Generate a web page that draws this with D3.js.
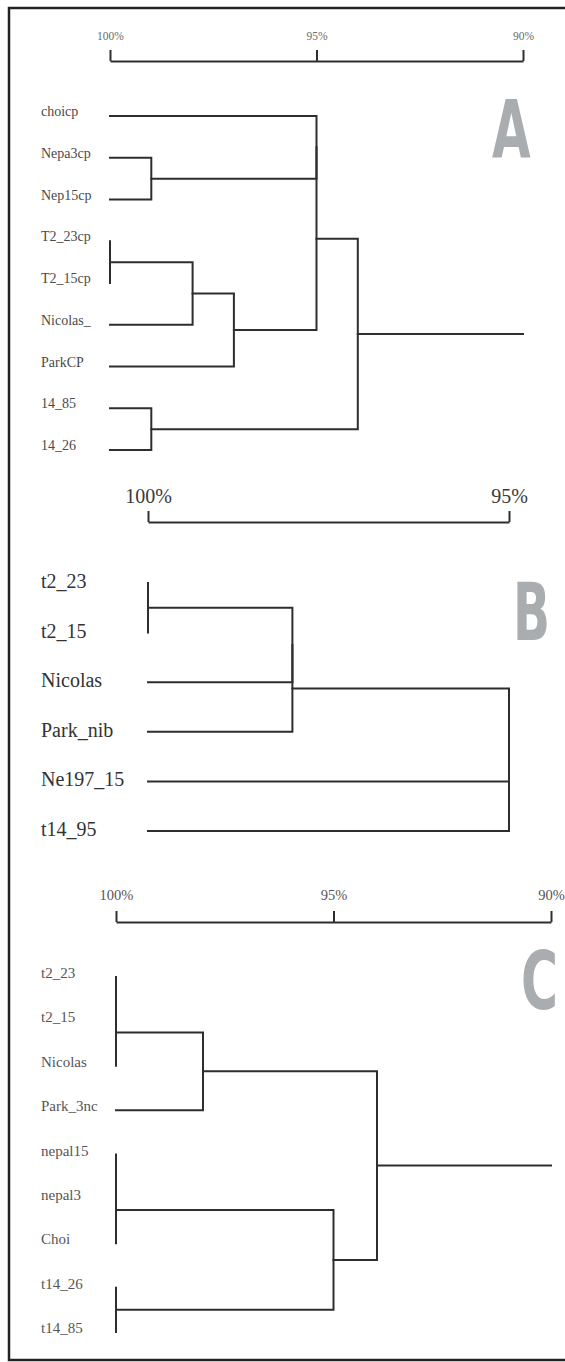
<!DOCTYPE html>
<html>
<head>
<meta charset="utf-8">
<script src="https://cdn.jsdelivr.net/npm/d3@7"></script>
<style>
  body { margin: 0; background: #fff; }
</style>
</head>
<body>
<div id="chart"></div>
<script>
// panel A
const leavesA = ["choicp", "Nepa3cp", "Nep15cp", "T2_23cp", "T2_15cp", "Nicolas_", "ParkCP", "14_85", "14_26"];
const mergesA = [ // [child, child, similarity %] -> node n0, n1, ...
    ["Nepa3cp", "Nep15cp", 99],
    ["T2_23cp", "T2_15cp", 100],
    ["n1", "Nicolas_", 98],
    ["n2", "ParkCP", 97],
    ["choicp", "n0", 95],
    ["n4", "n3", 95],
    ["14_85", "14_26", 99],
    ["n5", "n6", 94]
];
const ticksA = [100, 95, 90];

// panel B
const leavesB = ["t2_23", "t2_15", "Nicolas", "Park_nib", "Ne197_15", "t14_95"];
const mergesB = [
    ["t2_23", "t2_15", 100],
    ["n0", "Nicolas", 98],
    ["n1", "Park_nib", 98],
    ["n2", "Ne197_15", 95],
    ["n3", "t14_95", 95]
];
const ticksB = [100, 95];

// panel C
const leavesC = ["t2_23", "t2_15", "Nicolas", "Park_3nc", "nepal15", "nepal3", "Choi", "t14_26", "t14_85"];
const mergesC = [
    ["t2_23", "t2_15", 100],
    ["n0", "Nicolas", 100],
    ["n1", "Park_3nc", 98],
    ["nepal15", "nepal3", 100],
    ["n3", "Choi", 100],
    ["t14_26", "t14_85", 100],
    ["n4", "n5", 95],
    ["n2", "n6", 94]
];
const ticksC = [100, 95, 90];

const panelLetters = ["A", "B", "C"];

const W = 565, H = 1362;
const lineColor = "#2e2e2e";
const serif = "'Liberation Serif', 'Times New Roman', serif";

const panels = [
    { leaves: leavesA, merges: mergesA, ticks: ticksA, domain: [100, 90], xr: [110, 523],
      axisY: 61, pad: 10, axisFont: 11.5, axisColor: "#6a6a6a",
      yr: [116, 450], labelFont: 14, labelDy: 0, labelColor: "#4a4a4a",
      letter: { x: 492, y: 158, w: 39 } },
    { leaves: leavesB, merges: mergesB, ticks: ticksB, domain: [100, 95], xr: [148, 509],
      axisY: 522, pad: 8, axisFont: 20, axisColor: "#3a3a3a",
      yr: [583, 831], labelFont: 20, labelDy: 5, labelColor: "#333",
      letter: { x: 513, y: 640, w: 37 } },
    { leaves: leavesC, merges: mergesC, ticks: ticksC, domain: [100, 90], xr: [116, 551],
      axisY: 922, pad: 11, axisFont: 14.5, axisColor: "#555",
      yr: [977, 1332], labelFont: 15, labelDy: 1, labelColor: "#555",
      letter: { x: 521, y: 1009, w: 37 } }
];

const svg = d3.select("#chart")
    .append("svg")
    .attr("width", W)
    .attr("height", H);

svg.append("rect")
    .attr("width", W).attr("height", H)
    .attr("fill", "#fff");

// outer frame (right side runs off the page)
svg.append("rect")
    .attr("x", 9).attr("y", 8)
    .attr("width", 640).attr("height", 1352)
    .attr("fill", "none")
    .attr("stroke", "#222")
    .attr("stroke-width", 2.5);

panels.forEach((p, i) => {
    const g = svg.append("g");
    const x = d3.scaleLinear().domain(p.domain).range(p.xr);
    const y = d3.scalePoint().domain(p.leaves).range(p.yr);

    // scale bar
    const axis = g.append("g")
        .attr("transform", `translate(0,${p.axisY})`)
        .call(d3.axisTop(x)
            .tickValues(p.ticks)
            .tickFormat(d => d + "%")
            .tickSize(11)
            .tickSizeOuter(0)
            .tickPadding(p.pad));
    axis.select(".domain").attr("stroke", lineColor).attr("stroke-width", 2);
    axis.selectAll(".tick line").attr("stroke", lineColor).attr("stroke-width", 2);
    axis.selectAll(".tick text")
        .attr("fill", p.axisColor)
        .style("font-family", serif)
        .style("font-size", p.axisFont + "px");

    // leaf labels
    g.selectAll(".leaf")
        .data(p.leaves)
        .enter()
        .append("text")
        .attr("x", 41)
        .attr("y", d => y(d) + p.labelDy)
        .attr("fill", p.labelColor)
        .style("font-family", serif)
        .style("font-size", p.labelFont + "px")
        .text(d => d);

    // dendrogram links
    const pos = {};
    p.leaves.forEach(n => pos[n] = { x: x(100), y: y(n) });
    const links = [];
    p.merges.forEach(([a, b, s], k) => {
        const pa = pos[a], pb = pos[b], nx = x(s);
        links.push(`M${pa.x},${pa.y}H${nx}V${pb.y}H${pb.x}`);
        pos["n" + k] = { x: nx, y: (pa.y + pb.y) / 2 };
    });
    const root = pos["n" + (p.merges.length - 1)];
    if (root.x < p.xr[1]) links.push(`M${root.x},${root.y}H${p.xr[1]}`);

    g.selectAll(".link")
        .data(links)
        .enter()
        .append("path")
        .attr("d", d => d)
        .attr("fill", "none")
        .attr("stroke", lineColor)
        .attr("stroke-width", 2)
        .attr("stroke-linecap", "square");

    // big panel letter, squeezed to the condensed width
    const letter = g.append("text")
        .attr("x", 0)
        .attr("y", 0)
        .attr("fill", "#a9adaf")
        .style("font-family", "'Liberation Sans Narrow', 'DejaVu Sans Condensed', sans-serif")
        .style("font-weight", "bold")
        .style("font-size", "81px")
        .text(panelLetters[i]);
    const bb = letter.node().getBBox();
    const sx = p.letter.w / bb.width;
    letter.attr("transform", `translate(${p.letter.x - bb.x * sx},${p.letter.y}) scale(${sx},1)`);
});
</script>
</body>
</html>
